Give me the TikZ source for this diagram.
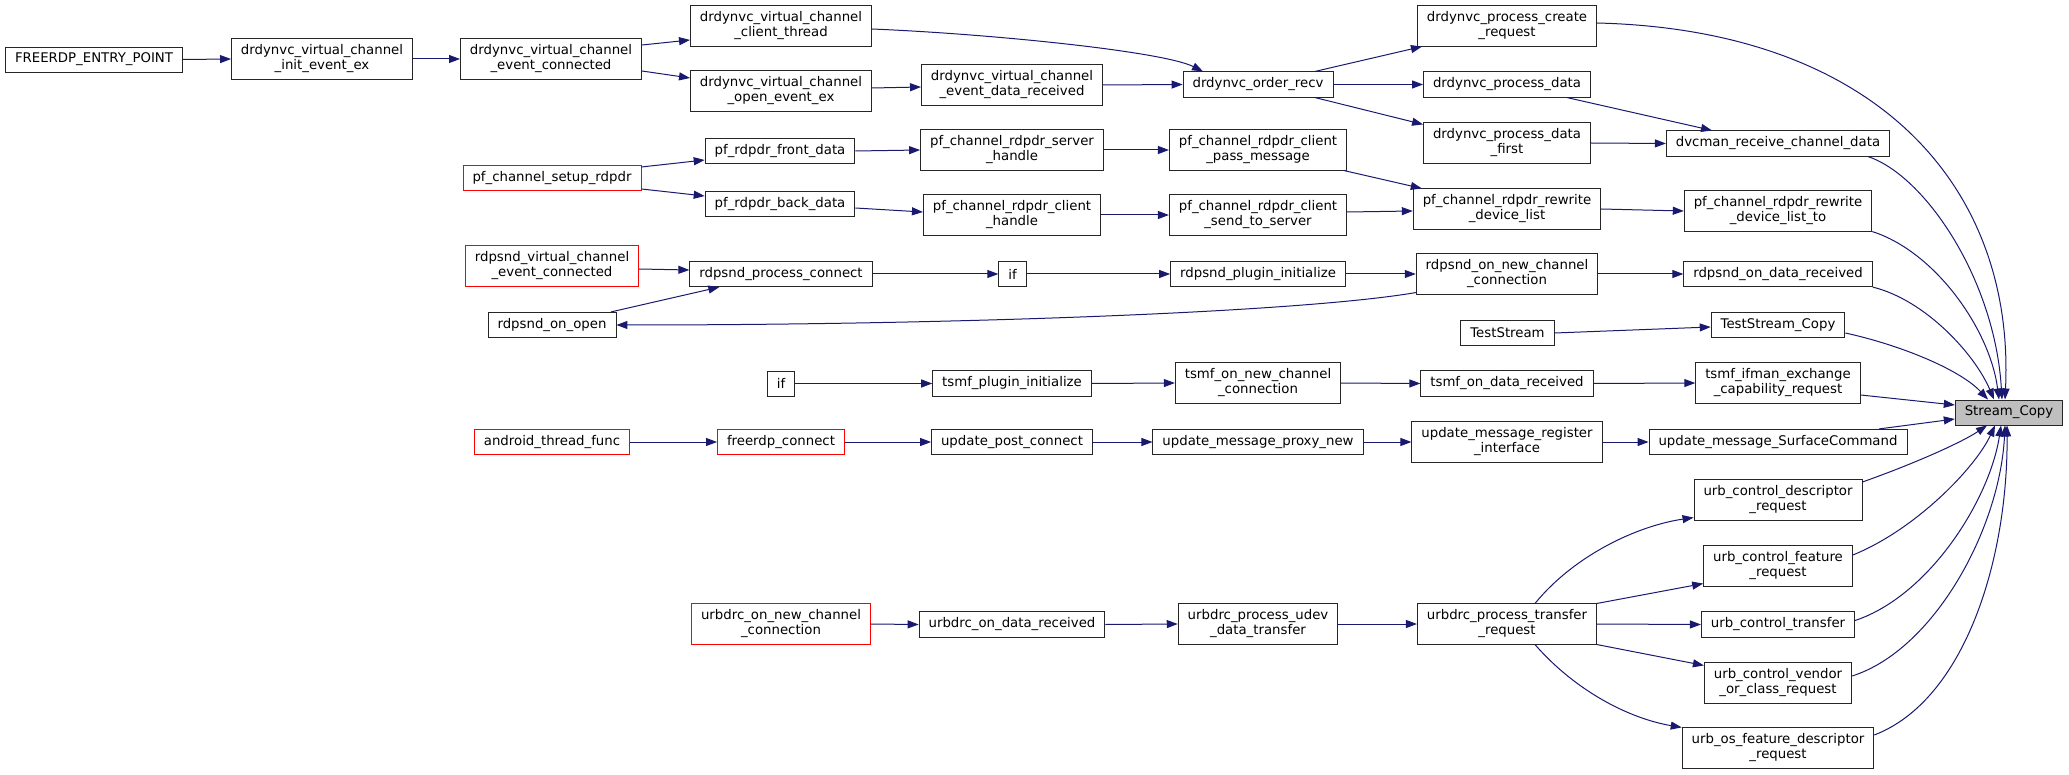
\documentclass[tikz,border=0pt]{standalone}
\usepackage{fontspec}
\setmainfont{DejaVu Sans}
\usetikzlibrary{arrows.meta}

\begin{document}
\begin{tikzpicture}[x=1pt,y=-1pt,
	fn/.style={draw=black!85,fill=white,line width=0.9pt,inner xsep=9.5pt,inner ysep=6pt,minimum height=25pt,align=center,font=\fontsize{13.3}{15}\selectfont},
	fnred/.style={fn,draw=red},
	fncur/.style={fn,fill=black!25},
	call/.style={draw=edgeblue,line width=1pt,-{Triangle[length=11pt,width=8pt]}}]
					\definecolor{edgeblue}{HTML}{191970}
					\useasboundingbox (0,0) rectangle (2069,775);

					\node[fn] (entry) at (94,59.5) {FREERDP\_ENTRY\_POINT};
					\node[fn] (initev) at (322,59) {drdynvc\_virtual\_channel\\\_init\_event\_ex};
					\node[fn] (evconn) at (551,59) {drdynvc\_virtual\_channel\\\_event\_connected};
					\node[fn] (clthread) at (781,26) {drdynvc\_virtual\_channel\\\_client\_thread};
					\node[fn] (openev) at (781,91) {drdynvc\_virtual\_channel\\\_open\_event\_ex};
					\node[fn] (evdata) at (1012,85) {drdynvc\_virtual\_channel\\\_event\_data\_received};
					\node[fn] (orderrecv) at (1258,84.5) {drdynvc\_order\_recv};
					\node[fn] (createreq) at (1507,26) {drdynvc\_process\_create\\\_request};
					\node[fn] (procdata) at (1507,84.5) {drdynvc\_process\_data};
					\node[fn] (procfirst) at (1507,143) {drdynvc\_process\_data\\\_first};
					\node[fn] (dvcman) at (1778,143.5) {dvcman\_receive\_channel\_data};

					\node[fnred] (setup) at (552,178) {pf\_channel\_setup\_rdpdr};
					\node[fn] (front) at (780,151) {pf\_rdpdr\_front\_data};
					\node[fn] (back) at (780,204) {pf\_rdpdr\_back\_data};
					\node[fn] (srvhandle) at (1012,150) {pf\_channel\_rdpdr\_server\\\_handle};
					\node[fn] (clhandle) at (1012,215) {pf\_channel\_rdpdr\_client\\\_handle};
					\node[fn] (passmsg) at (1258,150) {pf\_channel\_rdpdr\_client\\\_pass\_message};
					\node[fn] (sendsrv) at (1258,215) {pf\_channel\_rdpdr\_client\\\_send\_to\_server};
					\node[fn] (rewrite) at (1507,209) {pf\_channel\_rdpdr\_rewrite\\\_device\_list};
					\node[fn] (rewriteto) at (1778,211) {pf\_channel\_rdpdr\_rewrite\\\_device\_list\_to};

					\node[fnred] (sndvirt) at (552,266) {rdpsnd\_virtual\_channel\\\_event\_connected};
					\node[fn] (sndopen) at (552,325) {rdpsnd\_on\_open};
					\node[fn] (sndconn) at (781,274) {rdpsnd\_process\_connect};
					\node[fn] (iffirst) at (1012.5,274) {if};
					\node[fn] (sndinit) at (1258,274) {rdpsnd\_plugin\_initialize};
					\node[fn] (sndnewch) at (1507,274) {rdpsnd\_on\_new\_channel\\\_connection};
					\node[fn] (snddata) at (1778,274) {rdpsnd\_on\_data\_received};
					\node[fn] (teststream) at (1507.5,333) {TestStream};
					\node[fn] (testcopy) at (1778,325) {TestStream\_Copy};

					\node[fn] (ifsecond) at (781,383.5) {if};
					\node[fn] (tsmfinit) at (1012,383.5) {tsmf\_plugin\_initialize};
					\node[fn] (tsmfnewch) at (1258,383) {tsmf\_on\_new\_channel\\\_connection};
					\node[fn] (tsmfdata) at (1507,383.5) {tsmf\_on\_data\_received};
					\node[fn] (tsmfcap) at (1778,383) {tsmf\_ifman\_exchange\\\_capability\_request};

					\node[fnred] (android) at (552,442) {android\_thread\_func};
					\node[fnred] (fconnect) at (781,442) {freerdp\_connect};
					\node[fn] (postconn) at (1012,442) {update\_post\_connect};
					\node[fn] (proxynew) at (1258,442) {update\_message\_proxy\_new};
					\node[fn] (reginterf) at (1507,442) {update\_message\_register\\\_interface};
					\node[fn] (surfcmd) at (1778,442) {update\_message\_SurfaceCommand};

					\node[fncur] (streamcopy) at (2009,412.5) {Stream\_Copy};

					\node[fn] (urbdescr) at (1778,500) {urb\_control\_descriptor\\\_request};
					\node[fn] (urbfeat) at (1778,566) {urb\_control\_feature\\\_request};
					\node[fn] (urbxfer) at (1778,624.5) {urb\_control\_transfer};
					\node[fn] (urbvendor) at (1778,683) {urb\_control\_vendor\\\_or\_class\_request};
					\node[fn] (urbos) at (1778,748) {urb\_os\_feature\_descriptor\\\_request};
					\node[fnred] (urbnewch) at (781,624) {urbdrc\_on\_new\_channel\\\_connection};
					\node[fn] (urbdata) at (1012,624.5) {urbdrc\_on\_data\_received};
					\node[fn] (udevxfer) at (1258,624) {urbdrc\_process\_udev\\\_data\_transfer};
					\node[fn] (xferreq) at (1507,624) {urbdrc\_process\_transfer\\\_request};

					\draw[call] (entry.east) -- (initev.west);
					\draw[call] (initev.east) -- (evconn.west);
					\draw[call] ([yshift=14pt]evconn.east) -- ([yshift=-14pt]clthread.west);
					\draw[call] ([yshift=-12pt]evconn.east) -- ([yshift=13pt]openev.west);
					\draw[call] ([yshift=3pt]openev.east) -- ([yshift=-2pt]evdata.west);
					\draw[call] ([yshift=-3pt]clthread.east) .. controls +(120,5) and +(-40,-20) .. ([xshift=-55pt]orderrecv.north);
					\draw[call] (evdata.east) -- (orderrecv.west);
					\draw[call] ([xshift=57pt]orderrecv.north) -- ([xshift=5pt]createreq.south west);
					\draw[call] (orderrecv.east) -- (procdata.west);
					\draw[call] ([xshift=57pt]orderrecv.south) -- ([yshift=-2pt]procfirst.north west);
					\draw[call] ([xshift=60pt]procdata.south) -- ([xshift=-66pt]dvcman.north);
					\draw[call] (procfirst.east) -- (dvcman.west);

					\draw[call] ([yshift=11pt]setup.east) -- ([yshift=-9pt]front.west);
					\draw[call] ([yshift=-11pt]setup.east) -- ([yshift=8pt]back.west);
					\draw[call] (front.east) -- (srvhandle.west);
					\draw[call] ([yshift=-4pt]back.east) -- ([yshift=3pt]clhandle.west);
					\draw[call] (srvhandle.east) -- (passmsg.west);
					\draw[call] (clhandle.east) -- (sendsrv.west);
					\draw[call] ([xshift=86pt]passmsg.south) -- ([xshift=9pt]rewrite.north west);
					\draw[call] ([yshift=3pt]sendsrv.east) -- ([yshift=-2pt]rewrite.west);
					\draw[call] (rewrite.east) -- (rewriteto.west);

					\draw[call] ([yshift=-3pt]sndvirt.east) -- ([yshift=4pt]sndconn.west);
					\draw[call] ([xshift=59pt]sndopen.north) -- ([xshift=30pt]sndconn.south west);
					\draw[call] (sndconn.east) -- (iffirst.west);
					\draw[call] (iffirst.east) -- (sndinit.west);
					\draw[call] (sndinit.east) -- (sndnewch.west);
					\draw[call] ([yshift=2pt]sndnewch.south west) .. controls +(-117,20) and +(334,0) .. (sndopen.east);
					\draw[call] (sndnewch.east) -- (snddata.west);
					\draw[call] (teststream.east) -- ([yshift=-2pt]testcopy.west);

					\draw[call] (ifsecond.east) -- (tsmfinit.west);
					\draw[call] (tsmfinit.east) -- (tsmfnewch.west);
					\draw[call] (tsmfnewch.east) -- (tsmfdata.west);
					\draw[call] (tsmfdata.east) -- (tsmfcap.west);

					\draw[call] (android.east) -- (fconnect.west);
					\draw[call] (fconnect.east) -- (postconn.west);
					\draw[call] (postconn.east) -- (proxynew.west);
					\draw[call] (proxynew.east) -- (reginterf.west);
					\draw[call] (reginterf.east) -- (surfcmd.west);

					\draw[call] (urbnewch.east) -- (urbdata.west);
					\draw[call] (urbdata.east) -- (udevxfer.west);
					\draw[call] (udevxfer.east) -- (xferreq.west);
					\draw[call] ([xshift=28pt]xferreq.north) .. controls +(40,-49) and +(-55,8) .. ([yshift=3pt]urbdescr.south west);
					\draw[call] (xferreq.north east) -- ([yshift=3pt]urbfeat.south west);
					\draw[call] (xferreq.east) -- (urbxfer.west);
					\draw[call] (xferreq.south east) -- ([yshift=-3pt]urbvendor.north west);
					\draw[call] ([xshift=28pt]xferreq.south) .. controls +(40,46) and +(-53,-9) .. (urbos.north west);

					\draw[call] ([yshift=3pt]createreq.east) .. controls +(283,7) and +(10,-210) .. ([xshift=-4pt]streamcopy.north);
					\draw[call] ([xshift=90pt]dvcman.south) .. controls +(57,19) and +(-7,-120) .. ([xshift=-7pt]streamcopy.north);
					\draw[call] (rewriteto.south east) .. controls +(63,20) and +(-9,-70) .. ([xshift=-10pt]streamcopy.north);
					\draw[call] (snddata.south east) .. controls +(53,13) and +(-19,-45) .. ([xshift=-15pt]streamcopy.north);
					\draw[call] ([yshift=-8pt]testcopy.east) .. controls +(55,12) and +(-28,-30) .. ([xshift=-21pt]streamcopy.north);
					\draw[call] ([yshift=-12pt]tsmfcap.east) -- ([yshift=7.5pt]streamcopy.west);
					\draw[call] ([xshift=101pt]surfcmd.north) -- ([yshift=-6.5pt]streamcopy.west);
					\draw[call] ([yshift=18pt]urbdescr.east) .. controls +(48,-17) and +(-27,18) .. ([xshift=-22pt]streamcopy.south);
					\draw[call] ([yshift=11pt]urbfeat.east) .. controls +(62,-25) and +(-20,43) .. ([xshift=-14pt]streamcopy.south);
					\draw[call] ([yshift=4pt]urbxfer.east) .. controls +(75,-25) and +(-11,73) .. ([xshift=-8pt]streamcopy.south);
					\draw[call] ([yshift=7pt]urbvendor.east) .. controls +(82,-26) and +(-5,103) .. ([xshift=-4pt]streamcopy.south);
					\draw[call] ([yshift=13pt]urbos.east) .. controls +(91,-35) and +(1,133) .. ([xshift=-2pt]streamcopy.south);
				\end{tikzpicture}
\end{document}
